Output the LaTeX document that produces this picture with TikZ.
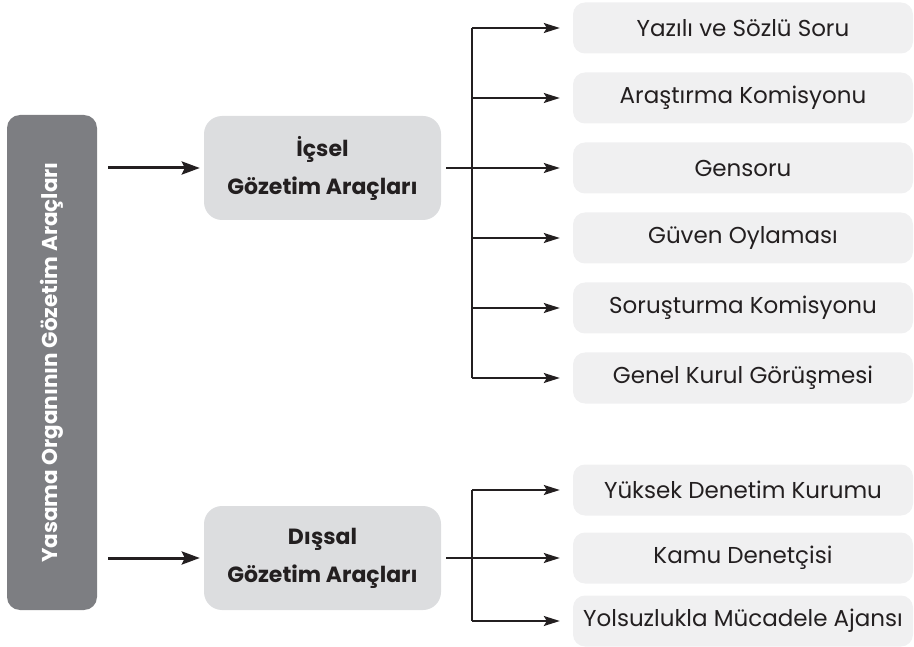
\documentclass[tikz,border=0pt]{standalone}
\usepackage{fontspec}
\setmainfont{Poppins}
\usetikzlibrary{arrows.meta}
\definecolor{txt}{HTML}{231F20}
\definecolor{leftgray}{HTML}{7D7E82}
\definecolor{midgray}{HTML}{DCDDDF}
\definecolor{lightgray}{HTML}{F0F0F1}
\tikzset{
  rootbox/.style={fill=leftgray, rounded corners=13pt, minimum width=90pt, minimum height=495pt, inner sep=0pt},
  midbox/.style={fill=midgray, rounded corners=18pt, minimum width=237pt, minimum height=104pt, align=center, inner sep=0pt,
     font=\fontsize{22}{38}\selectfont\bfseries, text=txt},
  leafbox/.style={fill=lightgray, rounded corners=12pt, minimum width=340pt, minimum height=51pt, inner sep=0pt,
     font=\fontsize{23}{27}\selectfont, text=txt},
  bigarr/.style={line width=3pt, -{Stealth[length=18pt,width=13pt,inset=3pt]}, txt},
  branch/.style={line width=1.6pt, txt},
  brarr/.style={line width=1.6pt, -{Stealth[length=16pt,width=10pt,inset=3pt]}, txt},
}
\begin{document}
\begin{tikzpicture}[x=1pt,y=-1pt]
\useasboundingbox (0,0) rectangle (914,647);
\node[rootbox] (root) at (52,362.5) {};
\node[rotate=90, text=white, font=\fontsize{21.5}{25}\selectfont\bfseries] (roottext) at (root.center) {Yasama Organının Gözetim Araçları};

\node[midbox] (ic) at (322.5,168) {İçsel\\Gözetim Araçları};
\node[midbox] (dis) at (322.5,558) {Dışsal\\Gözetim Araçları};

\node[leafbox] (a1) at (743,28) {Yazılı ve Sözlü Soru};
\node[leafbox] (a2) at (743,98) {Araştırma Komisyonu};
\node[leafbox] (a3) at (743,168) {Gensoru};
\node[leafbox] (a4) at (743,238) {Güven Oylaması};
\node[leafbox] (a5) at (743,308) {Soruşturma Komisyonu};
\node[leafbox] (a6) at (743,378) {Genel Kurul Görüşmesi};

\node[leafbox] (b1) at (743,490) {Yüksek Denetim Kurumu};
\node[leafbox] (b2) at (743,558) {Kamu Denetçisi};
\node[leafbox] (b3) at (743,621) {Yolsuzlukla Mücadele Ajansı};

\coordinate (tx) at (472,0);

% root arrows
\draw[bigarr] ([xshift=11pt]root.east |- ic.west) -- ([xshift=-4pt]ic.west);
\draw[bigarr] ([xshift=11pt]root.east |- dis.west) -- ([xshift=-4pt]dis.west);

% internal tree
\draw[branch] ([xshift=5pt]ic.east) -- (ic.east -| tx);
\draw[branch] (a1.west -| tx) -- (a6.west -| tx);
\foreach \n in {a1,a2,a3,a4,a5,a6}
  \draw[brarr] (\n.west -| tx) -- ([xshift=-13pt]\n.west);

% external tree
\draw[branch] ([xshift=5pt]dis.east) -- (dis.east -| tx);
\draw[branch] (b1.west -| tx) -- (b3.west -| tx);
\foreach \n in {b1,b2,b3}
  \draw[brarr] (\n.west -| tx) -- ([xshift=-13pt]\n.west);
\end{tikzpicture}
\end{document}
